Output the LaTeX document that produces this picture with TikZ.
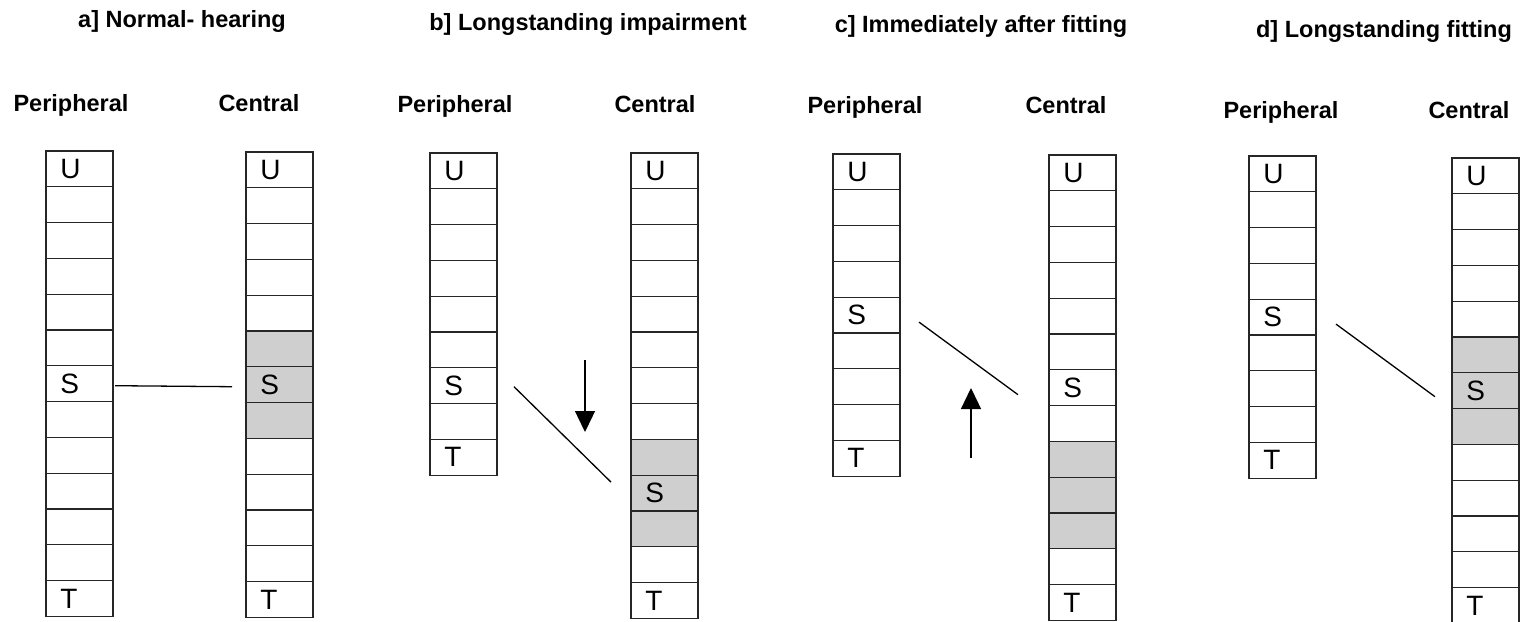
\documentclass[tikz,border=0pt]{standalone}
\usepackage{fontspec}
\setmainfont{Liberation Sans}
\usetikzlibrary{arrows.meta,calc}

% A column of stacked cells: #1 name, #2 left x, #3 top y, #4 number of cells,
% #5 first of three shaded cells (99 = none shaded)
\newcommand\stripcol[5]{%
  \foreach \i in {1,...,#4}{%
    \ifnum\i<#5 \def\cellkind{cell}%
    \else\ifnum\i>\numexpr#5+2\relax \def\cellkind{cell}%
    \else \def\cellkind{cellshaded}\fi\fi
    \node[\cellkind] (#1-\i) at (#2, {#3+(\i-1)*35.8}) {};
  }%
}

\begin{document}
\begin{tikzpicture}[x=0.5pt,y=-0.5pt,
  cell/.style={draw=black!85, line width=0.6pt, minimum width=33.5pt,
    minimum height=17.9pt, inner sep=0pt, outer sep=0pt, anchor=north west},
  cellshaded/.style={cell, fill=black!19},
  letter/.style={anchor=west, inner sep=0pt, font=\fontsize{14pt}{14pt}\selectfont},
  head/.style={anchor=base, inner sep=0pt, font=\fontsize{11.75pt}{14pt}\selectfont\bfseries},
  link/.style={line width=0.65pt},
  movearrow/.style={line width=0.65pt, -{Triangle[width=10pt,length=10.5pt]}},
]
\useasboundingbox (0,0) rectangle (1523,622);

% ---------- titles ----------
\node[head] (ta) at (182,27) {a] Normal- hearing};
\node[head] (tb) at (588,30) {b] Longstanding impairment};
\node[head] (tc) at (981,32) {c] Immediately after fitting};
\node[head] (td) at (1384,37) {d] Longstanding fitting};

% ---------- column headings ----------
\node[head] (hap) at (71,111) {Peripheral};
\node[head] (hac) at (259,111) {Central};
\node[head] (hbp) at (455,112) {Peripheral};
\node[head] (hbc) at (655,112) {Central};
\node[head] (hcp) at (865,113) {Peripheral};
\node[head] (hcc) at (1066,113) {Central};
\node[head] (hdp) at (1281,118) {Peripheral};
\node[head] (hdc) at (1469,118) {Central};

% ---------- columns ----------
\stripcol{ap}{46}{151}{13}{99}
\stripcol{ac}{246}{152}{13}{6}
\stripcol{bp}{430}{153}{9}{99}
\stripcol{bc}{631}{153}{13}{9}
\stripcol{cp}{833}{154}{9}{99}
\stripcol{cc}{1049}{155}{13}{9}
\stripcol{dp}{1249}{156}{9}{99}
\stripcol{dc}{1452}{158}{13}{6}

% ---------- cell letters ----------
\foreach \c/\s/\t in {ap/7/13, ac/7/13, bp/7/9, bc/10/13, cp/5/9, cc/7/13, dp/5/9, dc/7/13}{
  \node[letter] at ([xshift=7pt]\c-1.west) {U};
  \node[letter] at ([xshift=7pt]\c-\s.west) {S};
  \node[letter] at ([xshift=7pt]\c-\t.west) {T};
}

% ---------- links between the S cells ----------
\draw[link] ($(ap-7.east)+(2,2)$) -- ($(ac-7.west)+(-14,2)$);
\draw[link] ($(bp-7.east)+(17,1)$) -- ($(bc-10.west)+(-20,-11)$);
\draw[link] ($(cp-5.east)+(19,7)$) -- ($(cc-7.west)+(-31,7)$);
\draw[link] ($(dp-5.east)+(20,7)$) -- ($(dc-7.west)+(-17,6)$);

% ---------- direction arrows ----------
\coordinate (b-arrow-top) at (585,360);
\coordinate (b-arrow-tip) at (585,432);
\draw[movearrow] (b-arrow-top) -- (b-arrow-tip);
\coordinate (c-arrow-foot) at (971,458);
\coordinate (c-arrow-tip) at (971,388);
\draw[movearrow] (c-arrow-foot) -- (c-arrow-tip);
\end{tikzpicture}
\end{document}
